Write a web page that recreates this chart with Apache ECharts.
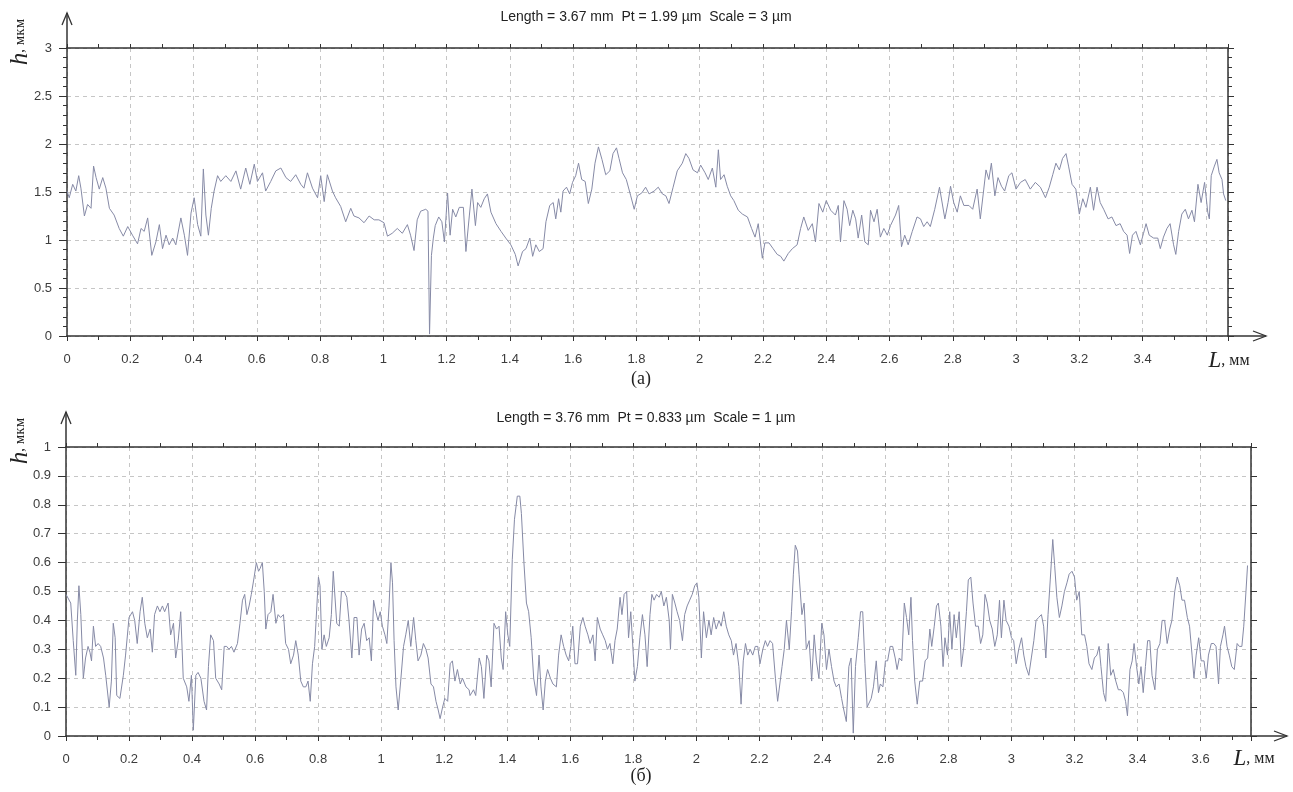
<!DOCTYPE html>
<html><head><meta charset="utf-8">
<script src="https://cdn.jsdelivr.net/npm/echarts@6/dist/echarts.min.js"></script>
<style>html,body{margin:0;padding:0;background:#fff}#c{width:1293px;height:792px}</style>
</head><body><div id="c"></div>
<script>
// ---- profile (а): L, mm  /  h, µm ----
const topL = [
0.000,0.007,0.018,0.028,0.037,0.044,0.055,0.065,0.076,0.084,
0.092,0.102,0.113,0.123,0.134,0.149,0.165,0.178,0.192,0.207,
0.223,0.234,0.244,0.255,0.268,0.281,0.292,0.302,0.313,0.323,
0.334,0.344,0.360,0.371,0.381,0.392,0.402,0.413,0.423,0.431,
0.439,0.447,0.456,0.465,0.476,0.486,0.502,0.518,0.534,0.549,
0.565,0.578,0.592,0.602,0.618,0.628,0.644,0.660,0.676,0.692,
0.707,0.723,0.739,0.749,0.760,0.776,0.792,0.802,0.813,0.823,
0.839,0.849,0.865,0.881,0.897,0.907,0.923,0.939,0.955,0.971,
0.986,1.002,1.013,1.028,1.044,1.060,1.076,1.086,1.097,1.107,
1.118,1.134,1.141,1.146,1.152,
1.158,1.164,1.175,1.185,1.193,1.203,1.211,1.219,1.229,1.240,
1.253,1.261,1.272,1.280,1.291,1.298,1.308,1.319,1.329,1.340,
1.356,1.372,1.387,1.403,1.417,1.426,1.440,1.451,1.463,1.472,
1.482,1.493,1.505,1.514,1.526,1.537,1.545,1.554,1.561,1.568,
1.579,1.589,1.598,1.608,1.617,1.627,1.638,1.648,1.659,1.669,
1.680,1.691,1.703,1.716,1.726,1.737,1.745,1.756,1.768,1.782,
1.793,1.803,1.817,1.829,1.840,1.856,1.869,1.882,1.893,1.903,
1.916,1.929,1.945,1.956,1.966,1.979,1.993,2.003,2.017,2.027,
2.040,2.051,2.059,2.066,2.077,2.087,2.098,2.108,2.122,2.135,
2.151,2.164,2.175,2.185,2.198,2.206,2.219,2.232,2.245,2.256,
2.266,2.280,2.293,2.308,2.319,2.329,2.343,2.356,2.366,2.377,
2.389,2.400,2.414,
2.429,2.438,2.445,2.456,2.466,2.474,2.484,2.493,2.501,2.512,
2.522,2.533,2.540,2.551,2.561,2.571,2.582,2.593,2.603,2.619,
2.629,2.638,2.648,2.659,2.672,2.687,2.698,2.708,2.719,2.729,
2.743,2.758,2.775,2.785,2.793,2.803,2.814,2.824,2.835,2.851,
2.863,2.877,2.887,2.898,2.905,2.914,2.922,2.933,2.943,2.954,
2.964,2.977,2.987,3.000,3.014,3.029,3.045,3.061,3.077,3.093,
3.105,3.116,3.126,3.137,3.147,3.158,3.166,3.177,3.189,3.200,
3.211,3.221,3.235,3.245,3.256,3.266,3.277,3.291,3.303,3.316,
3.329,3.340,3.351,3.359,3.368,3.379,3.393,3.403,3.411,3.421,
3.435,3.448,3.456,3.466,3.477,3.487,3.498,3.505,3.514,3.524,
3.535,3.545,3.556,3.564,3.575,3.585,3.596,3.606,3.611,3.617,
3.627,3.635,3.642,3.651,3.656,3.663
];
const topH = [
1.51,1.44,1.58,1.51,1.67,1.54,1.25,1.37,1.33,1.77,
1.65,1.53,1.65,1.54,1.33,1.26,1.12,1.04,1.14,1.05,
0.96,1.12,1.09,1.23,0.84,0.98,1.16,0.91,1.05,0.95,
1.02,0.95,1.23,1.05,0.84,1.28,1.44,1.16,1.04,1.74,
1.26,1.05,1.33,1.51,1.67,1.61,1.67,1.61,1.72,1.53,
1.75,1.58,1.79,1.61,1.70,1.51,1.61,1.72,1.75,1.65,
1.61,1.68,1.58,1.54,1.70,1.54,1.44,1.67,1.40,1.68,
1.51,1.44,1.35,1.19,1.33,1.25,1.23,1.18,1.25,1.21,
1.21,1.18,1.04,1.07,1.12,1.07,1.16,1.05,0.89,1.21,
1.30,1.32,1.30,0.02,0.84,
1.02,1.15,1.24,1.19,0.98,1.49,1.05,1.32,1.24,1.34,
1.34,0.88,1.26,1.53,1.15,1.39,1.34,1.43,1.48,1.29,
1.17,1.09,1.02,0.95,0.85,0.73,0.88,0.91,1.02,0.83,
0.95,0.88,0.91,1.19,1.36,1.39,1.22,1.43,1.29,1.51,
1.55,1.48,1.60,1.67,1.80,1.63,1.61,1.38,1.53,1.80,
1.97,1.84,1.68,1.72,1.90,1.96,1.85,1.70,1.63,1.46,
1.32,1.46,1.49,1.55,1.48,1.51,1.55,1.48,1.46,1.38,
1.55,1.72,1.80,1.90,1.85,1.73,1.70,1.78,1.70,1.63,
1.75,1.55,1.94,1.63,1.68,1.56,1.46,1.41,1.31,1.27,
1.24,1.12,1.03,1.17,0.81,0.97,0.97,0.91,0.85,0.83,
0.78,0.86,0.91,0.95,1.12,1.24,1.10,1.17,0.98,1.38,
1.29,1.41,1.31,
1.26,1.36,0.98,1.41,1.32,1.15,1.31,1.22,1.02,1.26,
0.98,0.95,1.31,1.19,1.32,1.03,1.12,1.05,1.15,1.26,
1.36,0.93,1.05,0.95,1.09,1.24,1.22,1.14,1.19,1.14,
1.32,1.55,1.22,1.39,1.56,1.39,1.29,1.46,1.36,1.36,
1.32,1.53,1.22,1.53,1.73,1.63,1.80,1.46,1.65,1.56,
1.51,1.67,1.70,1.53,1.60,1.63,1.53,1.60,1.55,1.44,
1.55,1.68,1.80,1.73,1.85,1.90,1.77,1.58,1.53,1.27,
1.43,1.34,1.55,1.31,1.55,1.39,1.32,1.22,1.24,1.15,
1.17,1.09,1.05,0.86,1.05,1.09,0.95,1.07,1.17,1.05,
1.02,1.02,0.91,1.03,1.12,1.17,0.95,0.85,1.09,1.27,
1.32,1.22,1.31,1.19,1.58,1.39,1.60,1.29,1.22,1.67,
1.77,1.84,1.70,1.63,1.48,1.41
];
// ---- profile (б): L, mm  /  h, µm ----
const botL = [
0.000,0.006,0.015,0.023,0.031,0.036,0.041,0.047,0.055,0.062,
0.070,0.076,0.081,0.087,0.094,0.102,0.110,0.119,0.126,0.137,
0.144,0.150,0.156,0.161,0.171,0.182,0.189,0.200,0.211,0.218,
0.226,0.235,0.242,0.250,0.258,0.267,0.274,0.281,0.290,0.298,
0.306,0.313,0.324,0.332,0.341,0.348,0.356,0.364,0.372,0.383,
0.390,0.398,0.404,0.412,0.419,0.428,0.438,0.446,0.452,0.459,
0.468,0.475,0.486,0.494,0.502,0.510,0.517,0.525,0.533,0.544,
0.552,0.560,0.567,0.574,0.581,0.588,0.597,0.604,0.611,0.616,
0.623,0.629,0.634,0.641,0.650,0.657,0.666,0.673,0.681,0.690,
0.697,0.706,0.713,0.722,0.729,0.737,0.745,0.753,0.761,0.768,
0.775,0.782,0.789,0.796,0.801,0.806,0.812,0.819,0.826,0.835,
0.842,0.848,0.854,0.859,0.867,0.874,0.883,0.891,0.898,0.907,
0.914,0.923,0.930,0.938,0.946,0.954,0.962,0.969,0.976,0.983,
0.990,0.997,1.004,1.012,1.018,1.025,1.031,1.036,1.041,1.047,
1.054,1.062,1.071,1.078,1.086,1.094,1.103,1.110,1.117,1.126,
1.134,1.142,1.149,1.158,1.166,1.174,1.181,1.187,1.195,1.202,
1.211,1.219,1.226,1.234,1.242,1.251,1.258,1.269,1.279,
1.282,1.293,1.300,1.311,1.318,1.326,1.335,1.342,1.349,1.358,
1.366,1.374,1.381,1.387,1.395,1.402,1.408,1.416,1.423,1.432,
1.440,1.445,1.453,1.461,1.468,1.476,1.484,1.493,1.501,1.507,
1.514,1.521,1.528,1.537,1.545,1.556,1.563,1.571,1.579,1.587,
1.595,1.602,1.608,1.615,1.623,1.632,1.640,1.647,1.656,1.663,
1.672,1.679,1.686,1.695,1.703,1.711,1.718,1.726,1.735,1.742,
1.749,1.758,1.764,1.771,1.779,1.785,1.792,1.798,1.805,1.813,
1.821,1.829,1.837,1.844,1.853,1.859,1.866,1.874,1.882,1.889,
1.897,1.905,1.914,1.918,1.924,1.932,1.939,1.947,1.956,1.963,
1.971,1.979,1.987,1.995,2.002,2.008,2.016,2.023,2.032,2.040,
2.047,2.055,2.063,2.072,2.079,2.087,2.095,2.103,2.111,2.118,
2.126,2.135,2.142,2.149,2.156,2.163,2.171,2.179,2.187,2.195,
2.202,2.211,2.219,2.226,2.234,2.242,2.251,2.258,2.265,2.272,
2.279,2.286,2.295,2.302,2.308,2.314,2.321,2.326,2.335,2.342,
2.349,2.358,2.366,2.374,2.381,2.389,2.398,2.405,2.413,2.421,
2.429,2.437,2.444,2.453,2.461,2.468,2.476,2.484,2.491,2.498,
2.505,2.514,2.521,2.528,2.535,2.542,
2.547,2.555,2.562,2.571,2.578,2.584,2.592,2.600,2.607,2.615,
2.623,2.631,2.637,2.644,2.652,2.660,2.667,2.674,2.681,2.686,
2.693,2.701,2.709,2.718,2.726,2.734,2.741,2.747,2.755,2.762,
2.768,2.776,2.783,2.789,2.797,2.804,2.811,2.818,2.825,2.834,
2.841,2.849,2.857,2.863,2.871,2.878,2.886,2.895,2.902,2.909,
2.916,2.923,2.931,2.939,2.947,2.955,2.962,2.968,2.976,2.983,
2.992,3.000,3.007,3.015,3.023,3.032,3.039,3.046,3.055,3.063,
3.071,3.078,3.086,3.095,3.102,3.109,3.116,3.123,3.131,3.137,
3.144,3.152,3.160,3.168,3.176,3.183,3.192,3.200,3.207,3.215,
3.223,3.232,3.239,3.246,3.255,3.263,3.271,3.278,3.284,3.292,
3.299,3.307,3.315,3.323,3.331,3.339,3.347,3.355,3.362,3.368,
3.376,3.383,3.389,3.397,3.404,3.411,3.418,3.425,3.432,3.439,
3.446,3.455,3.463,3.471,3.478,3.486,3.494,3.502,3.509,3.518,
3.526,3.534,3.541,3.549,3.558,3.565,3.573,3.579,3.586,3.594,
3.602,3.611,3.618,3.625,3.634,3.642,3.649,3.657,3.663,3.671,
3.676,3.684,3.691,3.699,3.707,3.716,3.723,3.731,3.737,3.744,
3.749
];
const botH = [
0.49,0.49,0.46,0.33,0.21,0.40,0.52,0.42,0.20,0.27,
0.31,0.29,0.26,0.38,0.31,0.32,0.31,0.27,0.21,0.10,
0.19,0.39,0.34,0.14,0.13,0.21,0.28,0.41,0.43,0.40,
0.32,0.43,0.48,0.39,0.34,0.37,0.29,0.42,0.45,0.43,
0.45,0.43,0.46,0.35,0.39,0.27,0.33,0.43,0.20,0.17,
0.12,0.21,0.02,0.21,0.22,0.20,0.12,0.09,0.24,0.35,
0.33,0.20,0.18,0.16,0.31,0.31,0.30,0.31,0.29,0.32,
0.39,0.47,0.49,0.42,0.45,0.49,0.55,0.60,0.57,0.58,
0.60,0.50,0.37,0.42,0.43,0.49,0.39,0.42,0.41,0.42,
0.32,0.30,0.25,0.28,0.33,0.28,0.19,0.17,0.17,0.19,
0.12,0.25,0.31,0.45,0.55,0.52,0.30,0.35,0.31,0.34,
0.42,0.57,0.57,0.39,0.38,0.50,0.50,0.48,0.40,0.27,
0.41,0.41,0.28,0.37,0.39,0.33,0.34,0.26,0.47,0.43,
0.40,0.43,0.38,0.35,0.32,0.45,0.60,0.53,0.33,0.17,
0.09,0.19,0.31,0.35,0.40,0.31,0.41,0.33,0.26,0.28,
0.32,0.30,0.27,0.18,0.17,0.12,0.09,0.06,0.10,0.13,
0.12,0.25,0.26,0.19,0.23,0.18,0.20,0.17,0.16,
0.14,0.16,0.14,0.27,0.24,0.13,0.28,0.26,0.17,0.39,
0.37,0.38,0.27,0.23,0.43,0.35,0.31,0.61,0.75,0.83,
0.83,0.77,0.60,0.46,0.43,0.34,0.20,0.14,0.28,0.17,
0.09,0.19,0.23,0.20,0.18,0.17,0.28,0.35,0.31,0.28,
0.26,0.31,0.38,0.25,0.25,0.38,0.41,0.38,0.35,0.32,
0.35,0.26,0.41,0.37,0.35,0.33,0.30,0.32,0.25,0.33,
0.37,0.48,0.42,0.49,0.50,0.34,0.43,0.43,0.19,0.24,
0.34,0.42,0.35,0.24,0.42,0.49,0.47,0.49,0.48,0.50,
0.45,0.48,0.40,0.30,0.49,0.46,0.43,0.40,0.33,0.42,
0.45,0.47,0.49,0.52,0.53,0.48,0.27,0.43,0.34,0.40,
0.35,0.41,0.37,0.40,0.38,0.43,0.38,0.35,0.33,0.28,
0.32,0.24,0.11,0.26,0.32,0.28,0.30,0.28,0.31,0.31,
0.25,0.30,0.33,0.31,0.33,0.32,0.20,0.12,0.18,0.24,
0.30,0.40,0.30,0.43,0.56,0.66,0.64,0.56,0.42,0.46,
0.30,0.33,0.19,0.35,0.26,0.20,0.39,0.35,0.23,0.30,
0.24,0.19,0.17,0.18,0.13,0.09,0.05,0.24,0.27,0.01,
0.24,0.34,0.43,0.43,0.25,0.10,
0.10,0.13,0.17,0.26,0.15,0.18,0.17,0.26,0.26,0.31,
0.31,0.27,0.23,0.27,0.26,0.46,0.41,0.35,0.48,0.33,
0.19,0.11,0.19,0.19,0.26,0.27,0.37,0.31,0.38,0.45,
0.46,0.38,0.24,0.34,0.28,0.43,0.30,0.42,0.34,0.43,
0.24,0.31,0.43,0.54,0.55,0.46,0.38,0.38,0.32,0.35,
0.49,0.46,0.40,0.37,0.31,0.35,0.47,0.34,0.47,0.40,
0.38,0.34,0.33,0.25,0.30,0.34,0.28,0.24,0.21,0.27,
0.33,0.40,0.41,0.42,0.38,0.27,0.42,0.54,0.68,0.59,
0.48,0.41,0.45,0.50,0.53,0.56,0.57,0.55,0.47,0.50,
0.35,0.35,0.31,0.25,0.23,0.27,0.28,0.31,0.24,0.15,
0.12,0.32,0.21,0.23,0.19,0.16,0.16,0.15,0.12,0.07,
0.23,0.26,0.32,0.24,0.18,0.24,0.15,0.24,0.33,0.33,
0.21,0.16,0.30,0.32,0.40,0.40,0.32,0.37,0.40,0.50,
0.55,0.52,0.47,0.47,0.41,0.38,0.28,0.20,0.28,0.34,
0.26,0.26,0.20,0.28,0.32,0.32,0.31,0.18,0.31,0.35,
0.38,0.31,0.28,0.24,0.23,0.32,0.31,0.31,0.38,0.50,
0.59
];
const topTitle = 'Length = 3.67 mm  Pt = 1.99 µm  Scale = 3 µm';
const botTitle = 'Length = 3.76 mm  Pt = 0.833 µm  Scale = 1 µm';
const topMaxL = 3.67, botMaxL = 3.76;

const AX = '#333333', GRIDC = '#c6c6c6', LINEC = '#868aa6', LBL = '#3c3c3c';
const sans = '"Liberation Sans", Arial, sans-serif';
const serif = '"Liberation Serif", "Times New Roman", serif';
const pairs = (a, b) => a.map((x, i) => [x, b[i]]);

function xBottom(gi, max, hideAbove) {
  return {
    type: 'value', gridIndex: gi, position: 'bottom', min: 0, max: max, interval: 0.2,
    axisLine: { show: true, onZero: false, lineStyle: { color: AX, width: 1.5 } },
    axisTick: { show: true, length: 5, lineStyle: { color: AX } },
    minorTick: { show: true, splitNumber: 2, length: 4, lineStyle: { color: AX } },
    axisLabel: { show: true, color: LBL, fontSize: 13, fontFamily: sans, margin: 17,
      showMaxLabel: false, hideOverlap: false,
      formatter: v => (v > hideAbove ? '' : String(+v.toFixed(1))) },
    splitLine: { show: true, lineStyle: { color: GRIDC, type: [4, 4], width: 1 } },
    minorSplitLine: { show: false }
  };
}
function xTop(gi, max) {
  return {
    type: 'value', gridIndex: gi, position: 'top', min: 0, max: max, interval: 0.2,
    axisLine: { show: true, onZero: false, lineStyle: { color: AX, width: 1.5 } },
    axisTick: { show: true, length: 4, lineStyle: { color: AX } },
    minorTick: { show: true, splitNumber: 2, length: 4, lineStyle: { color: AX } },
    axisLabel: { show: false }, splitLine: { show: false }
  };
}
function yLeft(gi, max, step, minorN) {
  return {
    type: 'value', gridIndex: gi, position: 'left', min: 0, max: max, interval: step,
    axisLine: { show: true, onZero: false, lineStyle: { color: AX, width: 1.5 } },
    axisTick: { show: true, length: 8, lineStyle: { color: AX } },
    minorTick: { show: minorN > 0, splitNumber: minorN || 5, length: 4, lineStyle: { color: AX } },
    axisLabel: { show: true, color: LBL, fontSize: 13, fontFamily: sans, margin: 15,
      formatter: v => String(+v.toFixed(2)) },
    splitLine: { show: true, lineStyle: { color: GRIDC, type: [4, 4], width: 1 } }
  };
}
function yRight(gi, max, step, minorN) {
  return {
    type: 'value', gridIndex: gi, position: 'right', min: 0, max: max, interval: step,
    axisLine: { show: true, onZero: false, lineStyle: { color: AX, width: 1.5 } },
    axisTick: { show: true, length: 6, lineStyle: { color: AX } },
    minorTick: { show: minorN > 0, splitNumber: minorN || 5, length: 4, lineStyle: { color: AX } },
    axisLabel: { show: false }, splitLine: { show: false }
  };
}

function arrowX(x0, x1, y) {
  return [
    { type: 'line', shape: { x1: x0, y1: y, x2: x1, y2: y }, style: { stroke: AX, lineWidth: 1.5 } },
    { type: 'polyline', shape: { points: [[x1 - 13, y - 5], [x1, y], [x1 - 13, y + 5]] }, style: { stroke: AX, lineWidth: 1.3, fill: null } }
  ];
}
function arrowY(x, y0, y1) {
  return [
    { type: 'line', shape: { x1: x, y1: y0, x2: x, y2: y1 }, style: { stroke: AX, lineWidth: 1.5 } },
    { type: 'polyline', shape: { points: [[x - 5, y1 + 12], [x, y1], [x + 5, y1 + 12]] }, style: { stroke: AX, lineWidth: 1.3, fill: null } }
  ];
}
function hLabel(x, y) {
  return { type: 'text', x: x, y: y, rotation: Math.PI / 2,
    style: { text: '{i|h}{u|, мкм}', align: 'center', verticalAlign: 'middle', fill: '#222',
      rich: { i: { fontFamily: serif, fontStyle: 'italic', fontSize: 25, fill: '#222' },
              u: { fontFamily: serif, fontSize: 15, fill: '#222' } } } };
}
function lLabel(x, y) {
  return { type: 'text', x: x, y: y,
    style: { text: '{i|L}{u|, мм}', align: 'center', verticalAlign: 'middle', fill: '#222',
      rich: { i: { fontFamily: serif, fontStyle: 'italic', fontSize: 23, fill: '#222' },
              u: { fontFamily: serif, fontSize: 16, fill: '#222' } } } };
}
function plainText(txt, x, y, font) {
  return { type: 'text', x: x, y: y,
    style: { text: txt, align: 'center', verticalAlign: 'middle', font: font, fill: '#222' } };
}

const chart = echarts.init(document.getElementById('c'), null, { renderer: 'canvas' });
chart.setOption({
  animation: false,
  backgroundColor: '#ffffff',
  grid: [
    { left: 67, top: 48, width: 1161, height: 288, outerBoundsMode: 'none', containLabel: false },
    { left: 66, top: 447, width: 1185, height: 289, outerBoundsMode: 'none', containLabel: false }
  ],
  xAxis: [ xBottom(0, topMaxL, 3.5), xTop(0, topMaxL), xBottom(1, botMaxL, 3.7), xTop(1, botMaxL) ],
  yAxis: [ yLeft(0, 3, 0.5, 5), yRight(0, 3, 0.5, 5), yLeft(1, 1, 0.1, 0), yRight(1, 1, 0.1, 0) ],
  series: [
    { type: 'line', xAxisIndex: 0, yAxisIndex: 0, data: pairs(topL, topH), showSymbol: false,
      symbol: 'none', lineStyle: { color: LINEC, width: 1 }, silent: true },
    { type: 'line', xAxisIndex: 2, yAxisIndex: 2, data: pairs(botL, botH), showSymbol: false,
      symbol: 'none', lineStyle: { color: LINEC, width: 1 }, silent: true }
  ],
  graphic: [
    ...arrowX(1228, 1266, 336), ...arrowY(67, 48, 13),
    ...arrowX(1251, 1287, 736), ...arrowY(66, 447, 412),
    plainText(topTitle, 646, 17, '14px ' + sans),
    plainText(botTitle, 646, 418, '14px ' + sans),
    hLabel(20, 42), hLabel(20, 441),
    lLabel(1229, 361), lLabel(1254, 759),
    plainText('(а)', 641, 379, '18px ' + serif),
    plainText('(б)', 641, 776, '18px ' + serif)
  ]
});
</script>
</body></html>
